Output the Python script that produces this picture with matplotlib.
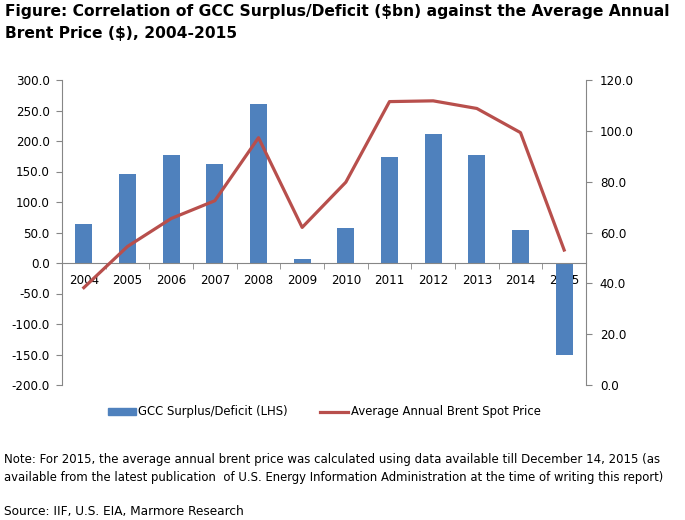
import numpy as np
import matplotlib
matplotlib.use("Agg")
import matplotlib.pyplot as plt
from matplotlib.ticker import FormatStrFormatter, FixedLocator

# values
years = ["2004", "2005", "2006", "2007", "2008", "2009",
         "2010", "2011", "2012", "2013", "2014", "2015"]
surplus = [64, 146, 177, 162, 261, 7, 57, 174, 211, 177, 54, -150]
brent = [38.3, 54.5, 65.5, 72.5, 97.3, 62.0, 79.8, 111.5, 111.8, 108.8, 99.3, 53.1]

bar_color = "#4F81BD"
line_color = "#B84F4C"
axis_gray = "#868686"

plt.rcParams["font.family"] = "DejaVu Sans"

fig = plt.figure(figsize=(6.85, 5.2), dpi=100)
ax = fig.add_axes([62/685, 1 - 385/520, 524/685, 305/520])
ax2 = ax.twinx()

x = np.arange(len(years))
ax.bar(x, surplus, width=0.39, color=bar_color, zorder=2)
ax2.plot(x, brent, color=line_color, lw=2.3, zorder=3)

ax.set_xlim(-0.5, len(years) - 0.5)
ax.set_ylim(-200, 300)
ax.set_yticks(np.arange(-200, 301, 50))
ax.yaxis.set_major_formatter(FormatStrFormatter("%.1f"))
ax2.set_ylim(0, 120)
ax2.set_yticks(np.arange(0, 121, 20))
ax2.yaxis.set_major_formatter(FormatStrFormatter("%.1f"))

# category axis crosses at zero, ticks between categories
ax.spines["bottom"].set_position(("data", 0))
ax.set_xticks(x)
ax.set_xticklabels(years)
ax.xaxis.set_minor_locator(FixedLocator(np.arange(0.5, len(years) - 0.5, 1)))
ax.tick_params(axis="x", which="major", length=0, pad=8, labelsize=8.6)
ax.tick_params(axis="x", which="minor", length=4, color=axis_gray, direction="out")
ax.tick_params(axis="y", length=4, color=axis_gray, labelsize=8.6, pad=5)
ax2.tick_params(axis="y", length=4, color=axis_gray, labelsize=8.6, pad=6)

for a in (ax, ax2):
    a.spines["top"].set_visible(False)
    for s in ("left", "right", "bottom"):
        a.spines[s].set_color(axis_gray)
ax2.spines["bottom"].set_visible(False)
ax2.spines["left"].set_visible(False)
ax.spines["right"].set_visible(False)

# legend
h1 = plt.Rectangle((0, 0), 1, 1, color=bar_color)
h2 = plt.Line2D([], [], color=line_color, lw=2.3)
fig.legend([h1, h2], ["GCC Surplus/Deficit (LHS)", "Average Annual Brent Spot Price"],
           loc="center", bbox_to_anchor=(324/685, 1 - 412/520), ncol=2, frameon=False,
           fontsize=8.4, handlelength=2.4, handletextpad=0.2, columnspacing=2.8,
           handleheight=0.5)

fig.text(5/685, 1 - 4/520,
         "Figure: Correlation of GCC Surplus/Deficit ($bn) against the Average Annual\n"
         "Brent Price ($), 2004-2015",
         ha="left", va="top", fontsize=11.2, fontweight="bold", linespacing=1.6)

fig.text(4/685, 1 - 460/520,
         "Note: For 2015, the average annual brent price was calculated using data available till December 14, 2015 (as",
         ha="left", va="center", fontsize=8.5)
fig.text(4/685, 1 - 477/520,
         "available from the latest publication  of U.S. Energy Information Administration at the time of writing this report)",
         ha="left", va="center", fontsize=8.4)
fig.text(4/685, 1 - 511/520, "Source: IIF, U.S. EIA, Marmore Research",
         ha="left", va="center", fontsize=8.75)

fig.savefig("out.png", dpi=100)
